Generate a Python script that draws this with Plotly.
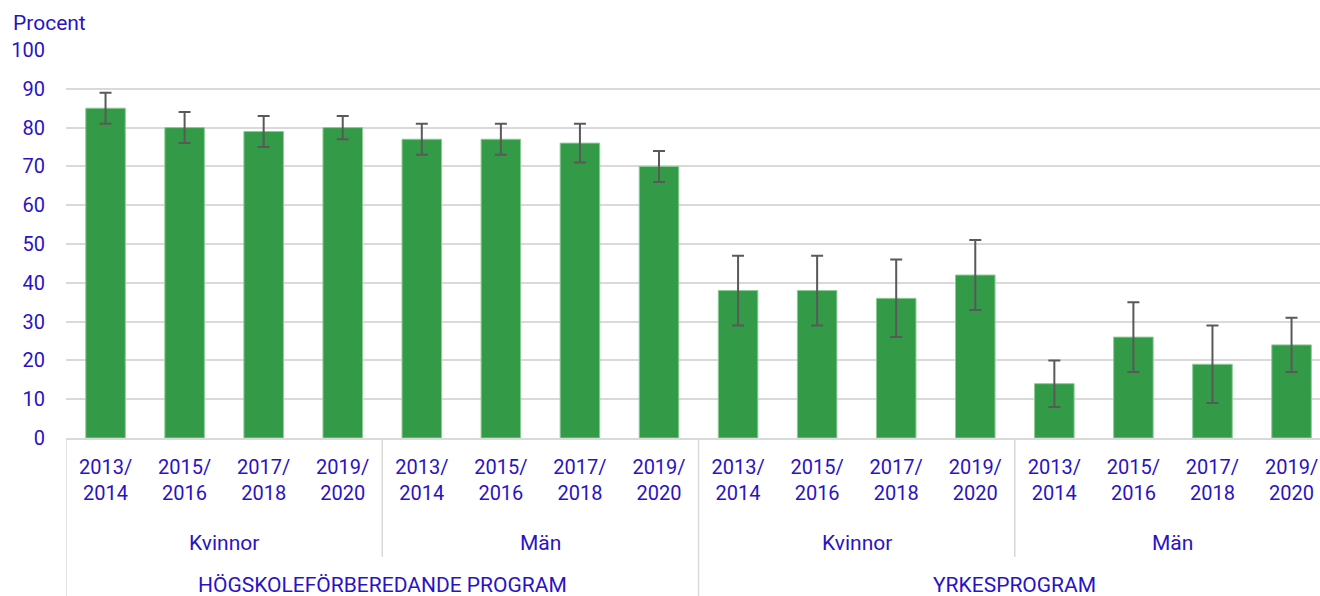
import plotly.graph_objects as go

years = ["2013/<br>2014", "2015/<br>2016", "2017/<br>2018", "2019/<br>2020"]
genders = ["Kvinnor", "Män"]
programs = ["HÖGSKOLEFÖRBEREDANDE PROGRAM", "YRKESPROGRAM"]

values = [85, 80, 79, 80, 77, 77, 76, 70, 38, 38, 36, 42, 14, 26, 19, 24]
err_upper = [89, 84, 83, 83, 81, 81, 81, 74, 47, 47, 46, 51, 20, 35, 29, 31]
err_lower = [81, 76, 75, 77, 73, 73, 71, 66, 29, 29, 26, 33, 8, 17, 9, 17]

TXT = "#2a12c6"
GRID = "#d9d9d9"
FONT = "Roboto"
FS = 21

n = len(values)
xs = list(range(n))
ticktext = [years[i % 4] for i in range(n)]
plus = [u - v for u, v in zip(err_upper, values)]
minus = [v - l for v, l in zip(values, err_lower)]

fig = go.Figure()
fig.add_trace(go.Bar(
    x=xs, y=values,
    marker=dict(color="#339a47", line=dict(color="#8ccb96", width=1)),
    error_y=dict(type="data", symmetric=False, array=plus, arrayminus=minus,
                 color="#595959", thickness=2, width=6),
    hoverinfo="y",
))

plot_h = 388.0
def py(px_below):
    return -px_below / plot_h

shapes = []
for i, xb in enumerate([-0.5, 3.5, 7.5, 11.5]):
    long = (i % 2 == 0)
    shapes.append(dict(type="line", xref="x", yref="paper", x0=xb, x1=xb,
                       y0=0, y1=py(165) if long else py(119),
                       line=dict(color=GRID, width=1.5)))

annotations = [dict(text="Procent", xref="paper", yref="paper", x=-55/1254,
                    y=1 + 27/plot_h, xanchor="left", yanchor="middle", showarrow=False,
                    font=dict(family=FONT, size=FS, color=TXT))]
for gi in range(4):
    annotations.append(dict(text=genders[gi % 2], xref="x", yref="paper",
                            x=gi * 4 + 1.5, y=py(104.5), xanchor="center", yanchor="middle",
                            showarrow=False, font=dict(family=FONT, size=FS, color=TXT)))
for pi in range(2):
    annotations.append(dict(text=programs[pi], xref="x", yref="paper",
                            x=pi * 8 + 3.5, y=py(146.5), xanchor="center", yanchor="middle",
                            showarrow=False, font=dict(family=FONT, size=FS, color=TXT)))

fig.update_layout(
    width=1320, height=596,
    margin=dict(l=66, r=0, t=50, b=158, autoexpand=False),
    plot_bgcolor="white", paper_bgcolor="white",
    showlegend=False,
    bargap=0.5,
    font=dict(family=FONT, size=FS, color=TXT),
    xaxis=dict(range=[-0.5, 15.36], tickmode="array", tickvals=xs, ticktext=ticktext,
               showgrid=False, zeroline=False, showline=True, linecolor=GRID, linewidth=2,
               ticks="", ticklabelstandoff=10, ticklabeloverflow="allow",
               tickfont=dict(family=FONT, size=20, color=TXT), fixedrange=True,
               automargin=False),
    yaxis=dict(range=[0, 100], dtick=10, showgrid=True, gridcolor=GRID, gridwidth=2,
               zeroline=False, showline=False, ticks="", ticklabelstandoff=20,
               tickfont=dict(family=FONT, size=20, color=TXT), fixedrange=True,
               automargin=False),
    shapes=shapes,
    annotations=annotations,
)

fig.write_html("out.html", config={"displayModeBar": False},
               post_script="document.body.style.margin='0';document.body.style.overflow='hidden';")
